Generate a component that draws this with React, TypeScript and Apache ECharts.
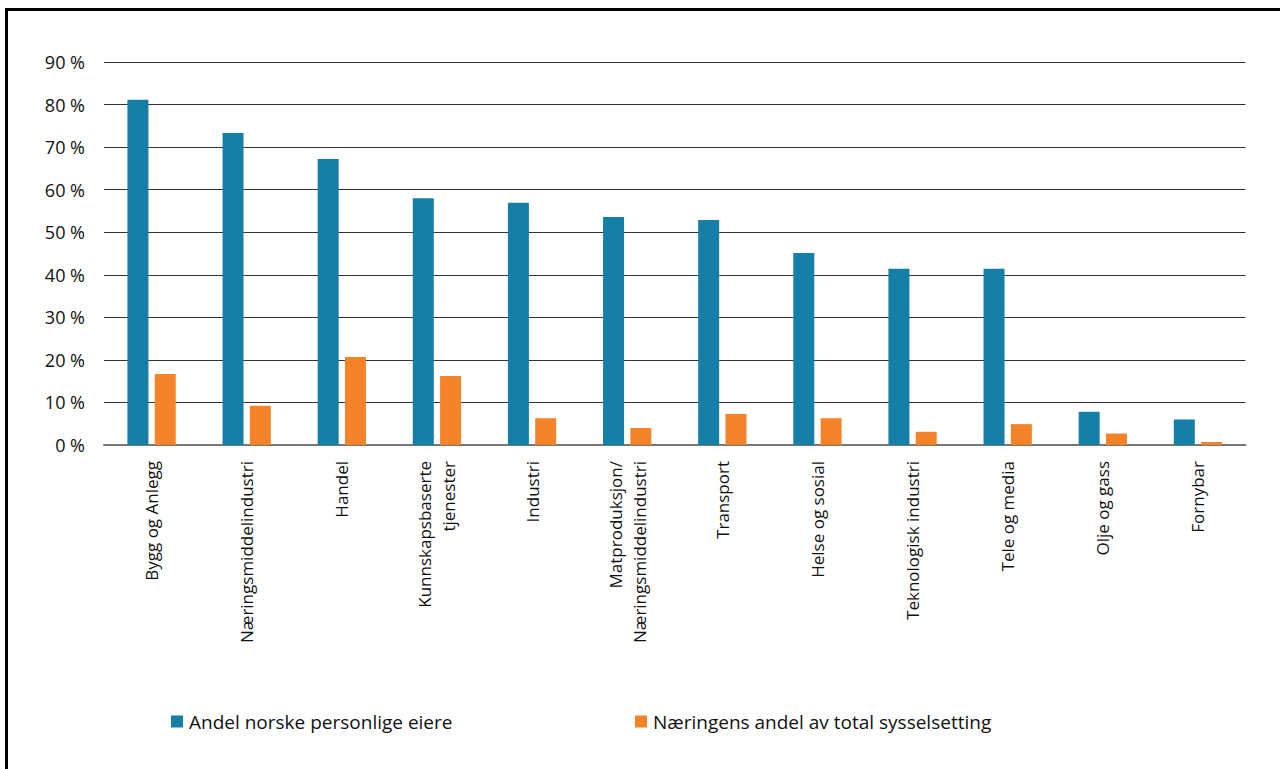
import React, { useEffect, useRef } from "react";
import * as echarts from "echarts";

const categories = [
  "Bygg og Anlegg",
  "Næringsmiddelindustri",
  "Handel",
  "Kunnskapsbaserte\ntjenester",
  "Industri",
  "Matproduksjon/\nNæringsmiddelindustri",
  "Transport",
  "Helse og sosial",
  "Teknologisk industri",
  "Tele og media",
  "Olje og gass",
  "Fornybar",
];
const ownersShare = [81.1, 73.3, 67.2, 58.0, 56.9, 53.6, 52.9, 45.1, 41.4, 41.4, 7.8, 6.0];
const employmentShare = [16.7, 9.2, 20.7, 16.2, 6.3, 4.0, 7.3, 6.3, 3.1, 4.9, 2.7, 0.7];
const seriesNames = ["Andel norske personlige eiere", "Næringens andel av total sysselsetting"];
const yTicks = [0, 10, 20, 30, 40, 50, 60, 70, 80, 90];

const FONT = "'Open Sans', sans-serif";

export default function App() {
  const ref = useRef<HTMLDivElement>(null);
  useEffect(() => {
    document.body.style.margin = "0";
    const chart = echarts.init(ref.current!, null, { renderer: "svg" });
    chart.setOption({
      animation: false,
      backgroundColor: "#ffffff",
      textStyle: { fontFamily: FONT },
      grid: { left: 104, right: 34.5, top: 62, bottom: 324, containLabel: false },
      legend: [
        {
          data: [seriesNames[0]],
          left: 166,
          top: 707,
          itemWidth: 12,
          itemHeight: 12,
          icon: "rect",
          textStyle: { fontFamily: FONT, fontSize: 19, color: "#111", padding: [0, 0, 0, 1] },
        },
        {
          data: [seriesNames[1]],
          left: 630,
          top: 707,
          itemWidth: 12,
          itemHeight: 12,
          icon: "rect",
          textStyle: { fontFamily: FONT, fontSize: 19, color: "#111", padding: [0, 0, 0, 1] },
        },
      ],
      xAxis: {
        type: "category",
        data: categories,
        axisLine: { show: true, lineStyle: { color: "#777", width: 2 } },
        axisTick: { show: false },
        axisLabel: {
          rotate: 90,
          interval: 0,
          margin: 16,
          fontFamily: FONT,
          fontSize: 17,
          color: "#111",
          lineHeight: 24,
        },
      },
      yAxis: {
        type: "value",
        min: yTicks[0],
        max: yTicks[yTicks.length - 1],
        interval: 10,
        axisLine: { show: false },
        axisTick: { show: false },
        splitLine: { lineStyle: { color: "#333", width: 1 } },
        axisLabel: {
          margin: 19,
          fontFamily: FONT,
          fontSize: 18,
          color: "#111",
          formatter: (v: number) => `${v} %`,
        },
      },
      series: [
        {
          name: seriesNames[0],
          type: "bar",
          data: ownersShare,
          barWidth: 21,
          barGap: "30%",
          itemStyle: { color: "#167fa6" },
        },
        {
          name: seriesNames[1],
          type: "bar",
          data: employmentShare,
          barWidth: 21,
          itemStyle: { color: "#f5832a" },
        },
      ],
      graphic: [
        {
          type: "rect",
          silent: true,
          shape: { x: 6.5, y: 9.5, width: 1400, height: 900 },
          style: { fill: "none", stroke: "#000", lineWidth: 3 },
        },
      ],
    });
    return () => chart.dispose();
  }, []);
  return <div ref={ref} style={{ width: 1280, height: 769 }} />;
}
